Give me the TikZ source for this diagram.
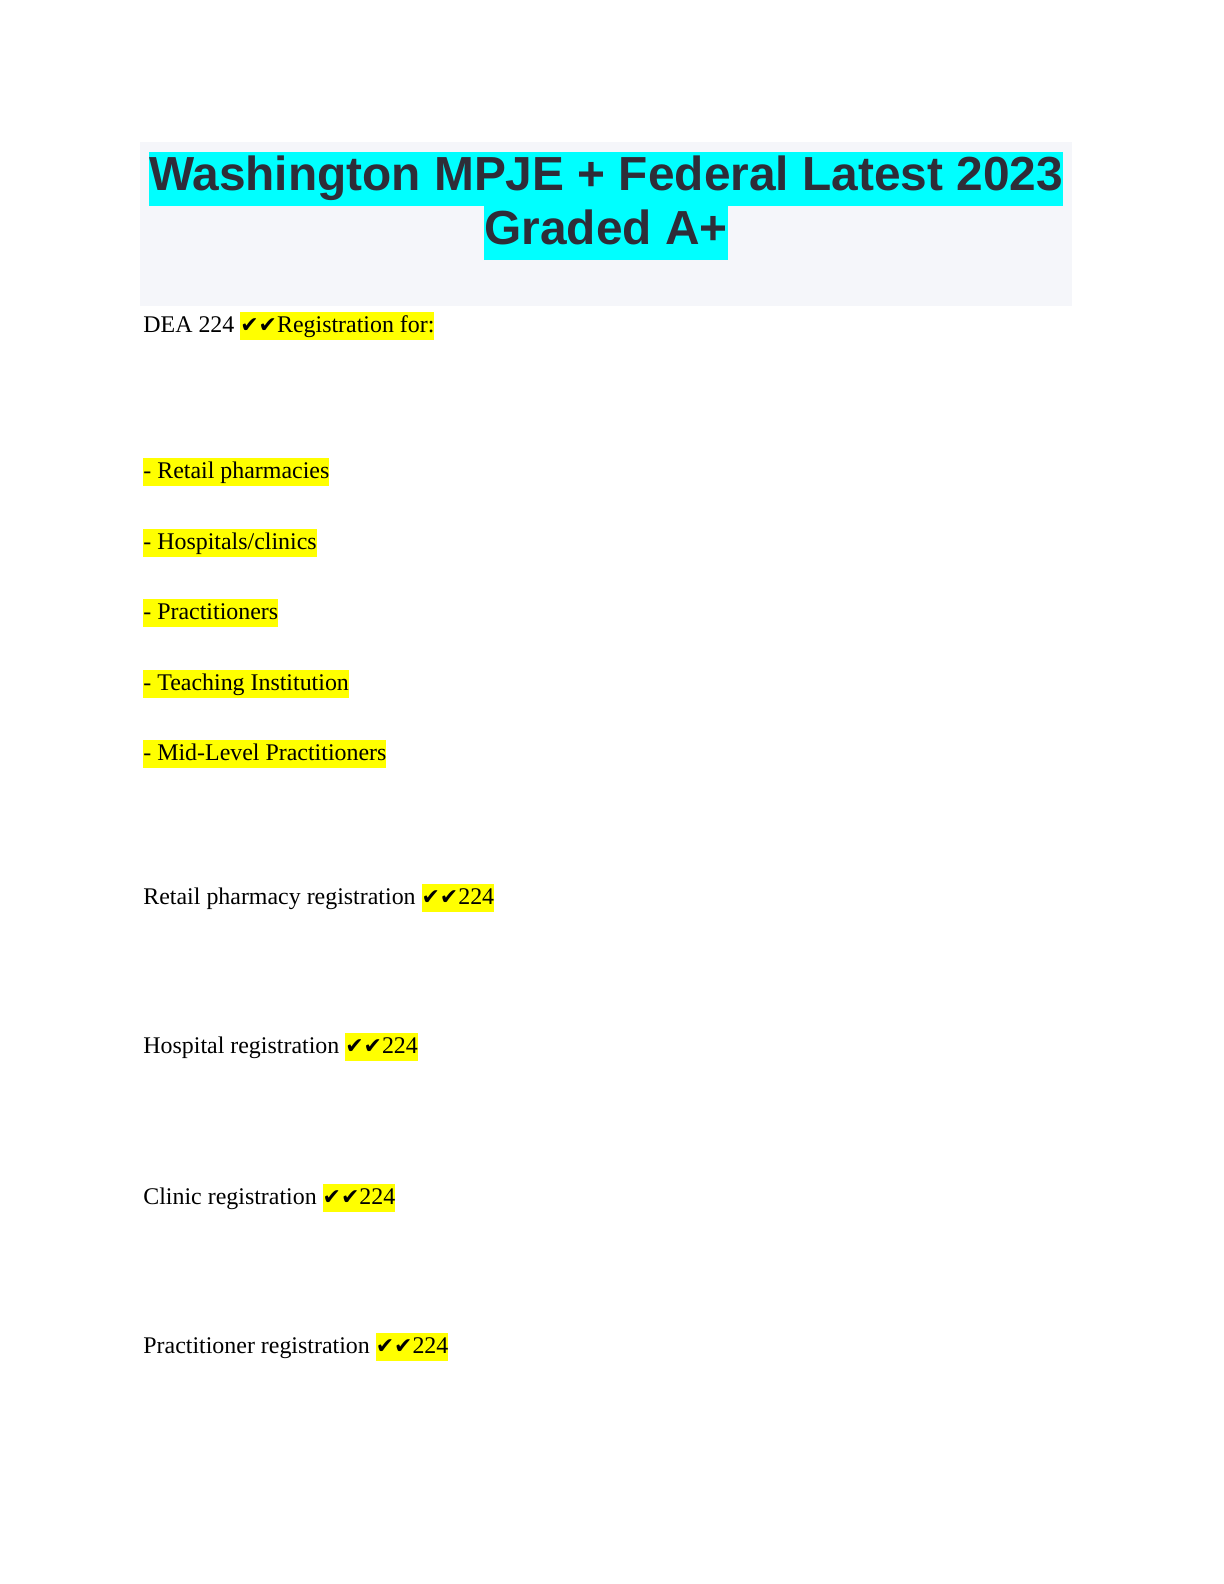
\documentclass[tikz,border=0pt]{standalone}
\usepackage{fontspec}
\setmainfont{Liberation Serif}
\newfontfamily\titlefont{Liberation Sans}
\newfontfamily\symfont{DejaVu Sans}
\definecolor{hlcyan}{RGB}{0,255,255}
\definecolor{hlyellow}{RGB}{255,255,0}
\newcommand\hlbox[2]{{\setlength\fboxsep{0pt}\colorbox{#1}{\strut #2}}}
\newcommand\chk{{\symfont\fontsize{11}{14}\selectfont ✔✔}}
\definecolor{bandgrey}{HTML}{F5F6FA}
\definecolor{titlegrey}{HTML}{2E2D38}
\begin{document}
\begin{tikzpicture}[x=0.5bp,y=-0.5bp,
  body/.style={anchor=base west,inner sep=0pt,font=\fontsize{12}{14}\selectfont},
  ttl/.style={anchor=base,inner sep=0pt,text=titlegrey,font=\titlefont\bfseries\fontsize{24}{27}\selectfont}]
\useasboundingbox (0,0) rectangle (1224,1584);
\fill[bandgrey] (140,142) rectangle (1072,306);
\node[ttl] (t1) at (606,190) {\hlbox{hlcyan}{Washington MPJE + Federal Latest 2023}};
\node[ttl] (t2) at (606,244) {\hlbox{hlcyan}{Graded A+}};
\node[body] (q1) at (143,332) {DEA 224 \hlbox{hlyellow}{\chk Registration for:}};
\node[body] (l1) at (143,478) {\hlbox{hlyellow}{- Retail pharmacies}};
\node[body] (l2) at (143,549) {\hlbox{hlyellow}{- Hospitals/clinics}};
\node[body] (l3) at (143,619) {\hlbox{hlyellow}{- Practitioners}};
\node[body] (l4) at (143,690) {\hlbox{hlyellow}{- Teaching Institution}};
\node[body] (l5) at (143,760) {\hlbox{hlyellow}{- Mid-Level Practitioners}};
\node[body] (q2) at (143,904) {Retail pharmacy registration \hlbox{hlyellow}{\chk 224}};
\node[body] (q3) at (143,1053) {Hospital registration \hlbox{hlyellow}{\chk 224}};
\node[body] (q4) at (143,1204) {Clinic registration \hlbox{hlyellow}{\chk 224}};
\node[body] (q5) at (143,1353) {Practitioner registration \hlbox{hlyellow}{\chk 224}};
\end{tikzpicture}
\end{document}
